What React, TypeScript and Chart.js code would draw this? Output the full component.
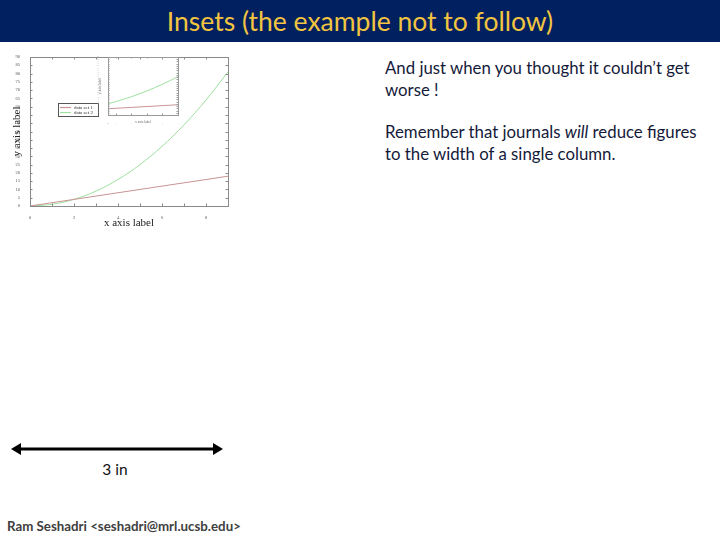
import React, { useEffect, useRef } from "react";
import { Chart, registerables } from "chart.js";

Chart.register(...registerables);

// ---- data ----
const xValues = [0, 1, 2, 3, 4, 5, 6, 7, 8, 9];
const dataSet1 = [0, 2, 4, 6, 8, 10, 12, 14, 16, 18];
const dataSet2 = [0, 1, 4, 9, 16, 25, 36, 49, 64, 81];
const seriesLabels = ["data set 1", "data set 2"];
const seriesColors = ["#c99393", "#9ee09e"];
const xLabeledTicks = [0, 2, 4, 6, 8];
const axisTitles = ["x axis label", "y axis label"];

const titleText = "Insets (the example not to follow)";
const bodyLines1 = ["And just when you thought it couldn’t get", "worse !"];
const scaleText = "3 in";
const footerText = "Ram Seshadri <seshadri@mrl.ucsb.edu>";

const serif = "'Liberation Serif', 'DejaVu Serif', serif";
const sans = "Lato, 'Open Sans', sans-serif";

const frameTicksPlugin = {
  id: "frameTicks",
  afterDatasetsDraw(chart: any, _args: any, opts: any) {
    const { ctx, chartArea } = chart;
    const { left, right, top, bottom } = chartArea;
    const len = opts.tickLen ?? 3;
    ctx.save();
    ctx.strokeStyle = opts.color || "#888";
    ctx.lineWidth = 1;
    ctx.strokeRect(left + 0.5, top + 0.5, right - left, bottom - top);
    ctx.beginPath();
    const xs = chart.scales.x;
    xs.ticks.forEach((t: any) => {
      const px = Math.round(xs.getPixelForValue(t.value)) + 0.5;
      ctx.moveTo(px, bottom);
      ctx.lineTo(px, bottom - len);
      ctx.moveTo(px, top);
      ctx.lineTo(px, top + len);
    });
    const ys = chart.scales.y;
    ys.ticks.forEach((t: any) => {
      const py = Math.round(ys.getPixelForValue(t.value)) + 0.5;
      ctx.moveTo(left, py);
      ctx.lineTo(left + len, py);
      ctx.moveTo(right, py);
      ctx.lineTo(right - len, py);
    });
    ctx.stroke();
    ctx.restore();
  },
};

const insideLegendPlugin = {
  id: "insideLegend",
  afterDatasetsDraw(chart: any, _args: any, opts: any) {
    if (!opts || !opts.show) return;
    const { ctx, chartArea } = chart;
    const x0 = chartArea.left + opts.dx;
    const y0 = chartArea.top + opts.dy;
    const w = opts.w;
    const rowH = opts.rowH;
    const n = chart.data.datasets.length;
    const h = rowH * n + 3;
    ctx.save();
    ctx.fillStyle = "#ffffff";
    ctx.fillRect(x0, y0, w, h);
    ctx.strokeStyle = "#555";
    ctx.lineWidth = 1;
    ctx.strokeRect(x0 + 0.5, y0 + 0.5, w, h);
    ctx.font = `${opts.fontSize}px ${serif}`;
    ctx.textBaseline = "middle";
    chart.data.datasets.forEach((ds: any, i: number) => {
      const cy = y0 + 2 + rowH * i + rowH / 2;
      ctx.strokeStyle = ds.borderColor;
      ctx.lineWidth = 1.2;
      ctx.beginPath();
      ctx.moveTo(x0 + 2, cy);
      ctx.lineTo(x0 + 13, cy);
      ctx.stroke();
      ctx.fillStyle = "#333";
      ctx.fillText(ds.label, x0 + 16, cy);
    });
    ctx.restore();
  },
};

function makeDatasets() {
  return [dataSet1, dataSet2].map((vals, i) => ({
    label: seriesLabels[i],
    data: xValues.map((x, j) => ({ x, y: vals[j] })),
    borderColor: seriesColors[i],
    backgroundColor: seriesColors[i],
    borderWidth: 1,
    pointRadius: 0,
    cubicInterpolationMode: "monotone" as const,
    fill: false,
  }));
}

function MainPlot() {
  const ref = useRef<HTMLCanvasElement>(null);
  useEffect(() => {
    if (!ref.current) return;
    const chart = new Chart(ref.current, {
      type: "line",
      data: { datasets: makeDatasets() as any },
      options: {
        responsive: false,
        animation: false,
        layout: { padding: { top: 7, right: 7, left: 0, bottom: 0 } },
        plugins: {
          legend: { display: false },
          tooltip: { enabled: false },
          frameTicks: { color: "#8a8a8a", tickLen: 2.5 },
          insideLegend: { show: true, dx: 28, dy: 46, w: 40, rowH: 5, fontSize: 5 },
        } as any,
        scales: {
          x: {
            type: "linear",
            min: 0,
            max: 9,
            afterFit: (s: any) => { s.height = 24; },
            grid: { display: false },
            border: { display: false },
            ticks: {
              stepSize: 1,
              padding: 1,
              maxRotation: 0,
              autoSkip: false,
              color: "#555",
              font: { size: 4.5, family: serif },
              callback: (v: any) => (xLabeledTicks.includes(Number(v)) ? String(v) : ""),
            },
            title: {
              display: true,
              text: axisTitles[0],
              color: "#222",
              font: { size: 11, family: serif },
              padding: { top: 0, bottom: 0 },
            },
          },
          y: {
            type: "linear",
            min: 0,
            max: 90,
            afterFit: (s: any) => { s.width = 30; },
            grid: { display: false },
            border: { display: false },
            ticks: {
              stepSize: 5,
              padding: 2,
              autoSkip: false,
              color: "#555",
              font: { size: 4.5, family: serif },
            },
            title: {
              display: true,
              text: axisTitles[1],
              color: "#222",
              font: { size: 11, family: serif },
              padding: { top: 11, bottom: 0 },
            },
          },
        },
      },
      plugins: [frameTicksPlugin, insideLegendPlugin],
    });
    return () => chart.destroy();
  }, []);
  return (
    <canvas
      ref={ref}
      width={235}
      height={180}
      style={{ position: "absolute", left: 0, top: 50, width: 235, height: 180 }}
    />
  );
}

function InsetPlot() {
  const ref = useRef<HTMLCanvasElement>(null);
  useEffect(() => {
    if (!ref.current) return;
    const chart = new Chart(ref.current, {
      type: "line",
      data: { datasets: makeDatasets() as any },
      options: {
        responsive: false,
        animation: false,
        layout: { padding: { top: 7, right: 7, left: 0, bottom: 0 } },
        plugins: {
          legend: { display: false },
          tooltip: { enabled: false },
          frameTicks: { color: "#9a9a9a", tickLen: 1.5 },
          insideLegend: { show: false },
        } as any,
        scales: {
          x: {
            type: "linear",
            min: 4.5,
            max: 9,
            afterFit: (s: any) => { s.height = 10; },
            grid: { display: false },
            border: { display: false },
            ticks: {
              stepSize: 1,
              padding: 0,
              maxRotation: 0,
              autoSkip: false,
              color: "#aaa",
              font: { size: 1.5, family: serif },
            },
            title: {
              display: true,
              text: axisTitles[0],
              color: "#666",
              font: { size: 3.5, family: serif },
              padding: { top: 0, bottom: 1 },
            },
          },
          y: {
            type: "linear",
            min: -5,
            max: 125,
            afterFit: (s: any) => { s.width = 13; },
            grid: { display: false },
            border: { display: false },
            ticks: {
              stepSize: 5,
              padding: 1,
              autoSkip: false,
              color: "#aaa",
              font: { size: 1.5, family: serif },
            },
            title: {
              display: true,
              text: axisTitles[1],
              color: "#666",
              font: { size: 3.5, family: serif },
              padding: { top: 3, bottom: 0 },
            },
          },
        },
      },
      plugins: [frameTicksPlugin],
    });
    return () => chart.destroy();
  }, []);
  return (
    <canvas
      ref={ref}
      width={90}
      height={75}
      style={{ position: "absolute", left: 95, top: 50, width: 90, height: 75 }}
    />
  );
}

export default function App() {
  return (
    <div
      style={{
        position: "fixed",
        left: 0,
        top: 0,
        width: 720,
        height: 540,
        overflow: "hidden",
        background: "#ffffff",
        fontFamily: sans,
      }}
    >
      <div
        style={{
          position: "absolute",
          left: 0,
          top: 0,
          width: 720,
          height: 42,
          background: "#002060",
          color: "#f2c440",
          fontSize: 26.5,
          lineHeight: "42px",
          textAlign: "center",
        }}
      >
        {titleText}
      </div>

      <MainPlot />
      <InsetPlot />

      <div
        style={{
          position: "absolute",
          left: 385,
          top: 57,
          width: 335,
          fontSize: 16.8,
          lineHeight: "22px",
          color: "#141a3a",
          whiteSpace: "nowrap",
        }}
      >
        <div>{bodyLines1[0]}</div>
        <div>{bodyLines1[1]}</div>
        <div style={{ height: 20 }} />
        <div>
          Remember that journals <i>will</i> reduce figures
        </div>
        <div>to the width of a single column.</div>
      </div>

      <svg
        style={{ position: "absolute", left: 0, top: 435, width: 240, height: 30 }}
        width={240}
        height={30}
      >
        <line x1={18} y1={14} x2={216} y2={14} stroke="#000" strokeWidth={3} />
        <polygon points="11,14 21,8 21,20" fill="#000" />
        <polygon points="223,14 213,8 213,20" fill="#000" />
      </svg>
      <div
        style={{
          position: "absolute",
          left: 80,
          top: 460,
          width: 70,
          textAlign: "center",
          fontSize: 15.5,
          color: "#111",
        }}
      >
        {scaleText}
      </div>

      <div
        style={{
          position: "absolute",
          left: 7,
          top: 518,
          fontSize: 13.3,
          fontWeight: "bold",
          color: "#404040",
          whiteSpace: "nowrap",
        }}
      >
        {footerText}
      </div>
    </div>
  );
}
